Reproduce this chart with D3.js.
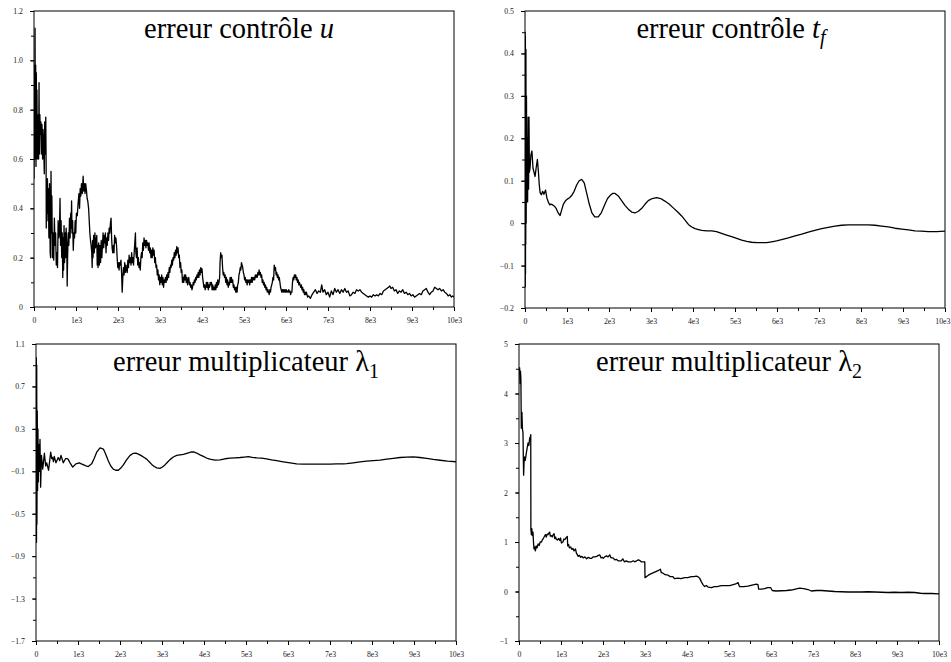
<!DOCTYPE html>
<html>
<head>
<meta charset="utf-8">
<script src="https://cdn.jsdelivr.net/npm/d3@7"></script>
<style>
  html, body { margin: 0; padding: 0; background: #fff; }
  svg { display: block; }
  .tick text { font-family: "Liberation Serif", "DejaVu Serif", serif; font-size: 7.8px; fill: #222; }
  .title { font-family: "Liberation Serif", "DejaVu Serif", serif; font-size: 28.5px; fill: #000; }
</style>
</head>
<body>
<svg id="chart" width="951" height="662"></svg>
<script>
// ---------------- data ----------------
const xTickValues = [0,1000,2000,3000,4000,5000,6000,7000,8000,9000,10000];
const xTickLabels = ["0","1e3","2e3","3e3","4e3","5e3","6e3","7e3","8e3","9e3","10e3"];

const uTicks = [0,0.2,0.4,0.6,0.8,1.0,1.2];
const uTickLabels = ["0","0.2","0.4","0.6","0.8","1.0","1.2"];
const tfTicks = [-0.2,-0.1,0,0.1,0.2,0.3,0.4,0.5];
const tfTickLabels = ["\u22120.2","\u22120.1","0","0.1","0.2","0.3","0.4","0.5"];
const l1Ticks = [-1.7,-1.3,-0.9,-0.5,-0.1,0.3,0.7,1.1];
const l1TickLabels = ["\u22121.7","\u22121.3","\u22120.9","\u22120.5","\u22120.1","0.3","0.7","1.1"];
const l2Ticks = [-1,0,1,2,3,4,5];
const l2TickLabels = ["\u22121","0","1","2","3","4","5"];

// erreur contrôle u
const uErr = [[0,0.52],[10,0.98],[20,0.6],[25,1.13],[32,0.7],[40,0.98],[48,0.57],[55,0.95],[62,0.72],[70,0.88],[78,0.6],[88,0.78],[100,0.7],[110,0.6],[120,0.91],[128,0.62],[140,0.78],[150,0.7],[165,0.75],[175,0.62],[190,0.74],[205,0.6],[215,0.72],[230,0.66],[245,0.54],[255,0.75],[268,0.62],[280,0.77],[288,0.6],[292,0.32],[300,0.45],[310,0.35],[320,0.52],[330,0.38],[340,0.48],[355,0.28],[370,0.5],[385,0.22],[395,0.2],[405,0.55],[415,0.3],[425,0.45],[440,0.2],[455,0.3],[470,0.19],[485,0.36],[500,0.25],[515,0.3],[530,0.17],[545,0.22],[560,0.16],[575,0.35],[590,0.28],[605,0.3],[620,0.44],[632,0.25],[645,0.35],[660,0.2],[672,0.3],[685,0.12],[695,0.28],[705,0.15],[715,0.33],[728,0.18],[740,0.3],[752,0.2],[765,0.32],[780,0.25],[790,0.085],[800,0.2],[815,0.3],[830,0.25],[845,0.36],[860,0.28],[875,0.38],[885,0.32],[895,0.43],[905,0.3],[920,0.35],[935,0.23],[950,0.3],[965,0.28],[980,0.35],[995,0.3],[1010,0.38],[1030,0.37],[1050,0.42],[1070,0.46],[1085,0.4],[1100,0.48],[1115,0.45],[1130,0.5],[1150,0.46],[1170,0.53],[1185,0.47],[1200,0.5],[1215,0.46],[1230,0.5],[1250,0.47],[1265,0.44],[1280,0.43],[1300,0.4],[1315,0.35],[1330,0.3],[1345,0.27],[1360,0.25],[1375,0.22],[1385,0.16],[1395,0.27],[1405,0.2],[1420,0.29],[1435,0.22],[1450,0.3],[1465,0.24],[1480,0.27],[1495,0.29],[1505,0.17],[1515,0.25],[1525,0.16],[1540,0.26],[1555,0.17],[1570,0.25],[1585,0.18],[1600,0.27],[1615,0.2],[1630,0.25],[1645,0.3],[1660,0.24],[1675,0.29],[1690,0.26],[1700,0.3],[1715,0.22],[1730,0.28],[1745,0.25],[1760,0.3],[1775,0.27],[1790,0.32],[1805,0.3],[1820,0.34],[1835,0.36],[1848,0.28],[1860,0.24],[1875,0.22],[1890,0.25],[1905,0.22],[1920,0.29],[1935,0.26],[1950,0.28],[1965,0.25],[1980,0.2],[1995,0.16],[2010,0.18],[2025,0.15],[2040,0.18],[2055,0.17],[2070,0.19],[2085,0.14],[2100,0.06],[2115,0.12],[2130,0.16],[2145,0.13],[2160,0.18],[2175,0.14],[2190,0.17],[2205,0.15],[2220,0.14],[2235,0.19],[2250,0.16],[2265,0.21],[2280,0.18],[2295,0.2],[2310,0.17],[2325,0.22],[2340,0.18],[2355,0.2],[2370,0.17],[2385,0.22],[2400,0.26],[2415,0.3],[2425,0.22],[2440,0.2],[2455,0.24],[2470,0.17],[2485,0.2],[2500,0.16],[2515,0.18],[2530,0.15],[2545,0.2],[2560,0.22],[2575,0.2],[2590,0.26],[2605,0.23],[2620,0.28],[2635,0.25],[2650,0.27],[2665,0.24],[2680,0.27],[2695,0.25],[2710,0.26],[2725,0.23],[2740,0.26],[2755,0.22],[2770,0.24],[2785,0.2],[2800,0.23],[2815,0.2],[2830,0.24],[2845,0.21],[2860,0.23],[2875,0.18],[2890,0.2],[2905,0.16],[2920,0.17],[2935,0.13],[2950,0.15],[2965,0.11],[2980,0.13],[2995,0.09],[3010,0.12],[3025,0.1],[3040,0.13],[3055,0.09],[3070,0.12],[3085,0.08],[3100,0.11],[3115,0.1],[3130,0.12],[3145,0.1],[3160,0.13],[3175,0.11],[3190,0.14],[3205,0.12],[3220,0.16],[3235,0.14],[3250,0.17],[3265,0.16],[3280,0.19],[3295,0.17],[3310,0.2],[3325,0.19],[3340,0.22],[3355,0.2],[3370,0.23],[3385,0.21],[3400,0.245],[3415,0.22],[3430,0.24],[3445,0.2],[3460,0.21],[3475,0.16],[3490,0.18],[3505,0.14],[3520,0.15],[3535,0.1],[3550,0.12],[3565,0.1],[3580,0.13],[3595,0.11],[3610,0.13],[3625,0.1],[3640,0.12],[3655,0.09],[3670,0.11],[3685,0.12],[3700,0.09],[3715,0.1],[3730,0.08],[3745,0.09],[3760,0.07],[3775,0.08],[3790,0.1],[3805,0.09],[3820,0.11],[3835,0.1],[3850,0.12],[3865,0.11],[3880,0.13],[3895,0.12],[3910,0.14],[3925,0.12],[3940,0.15],[3955,0.13],[3970,0.16],[3985,0.14],[4000,0.155],[4015,0.12],[4030,0.1],[4045,0.08],[4060,0.09],[4075,0.07],[4090,0.08],[4105,0.1],[4120,0.08],[4135,0.1],[4150,0.07],[4165,0.09],[4180,0.08],[4195,0.1],[4210,0.09],[4225,0.1],[4240,0.07],[4255,0.09],[4270,0.07],[4285,0.08],[4300,0.07],[4315,0.09],[4330,0.07],[4345,0.1],[4360,0.08],[4375,0.11],[4390,0.09],[4405,0.1],[4420,0.12],[4430,0.18],[4445,0.22],[4460,0.2],[4475,0.21],[4490,0.16],[4505,0.13],[4520,0.14],[4535,0.12],[4550,0.13],[4565,0.1],[4580,0.12],[4595,0.09],[4610,0.11],[4625,0.08],[4640,0.1],[4655,0.09],[4670,0.12],[4685,0.1],[4700,0.12],[4715,0.1],[4730,0.11],[4745,0.08],[4760,0.09],[4775,0.07],[4790,0.08],[4805,0.06],[4820,0.08],[4835,0.06],[4850,0.09],[4865,0.1],[4880,0.13],[4895,0.14],[4910,0.16],[4925,0.15],[4940,0.18],[4955,0.17],[4970,0.16],[4985,0.14],[5000,0.13],[5015,0.11],[5030,0.12],[5045,0.1],[5060,0.11],[5075,0.09],[5090,0.11],[5105,0.1],[5120,0.11],[5135,0.09],[5150,0.11],[5165,0.1],[5180,0.12],[5195,0.1],[5210,0.12],[5225,0.11],[5240,0.12],[5255,0.11],[5270,0.13],[5285,0.12],[5300,0.13],[5315,0.12],[5330,0.14],[5345,0.13],[5360,0.15],[5375,0.13],[5390,0.14],[5405,0.12],[5420,0.13],[5435,0.1],[5450,0.11],[5465,0.09],[5480,0.1],[5495,0.08],[5510,0.09],[5525,0.07],[5540,0.08],[5555,0.06],[5570,0.07],[5585,0.06],[5600,0.05],[5615,0.07],[5630,0.06],[5645,0.08],[5660,0.09],[5675,0.1],[5690,0.12],[5705,0.11],[5720,0.17],[5735,0.15],[5750,0.16],[5765,0.13],[5780,0.14],[5795,0.12],[5810,0.13],[5825,0.11],[5840,0.12],[5855,0.1],[5870,0.08],[5885,0.07],[5900,0.06],[5915,0.07],[5930,0.06],[5945,0.07],[5960,0.06],[5975,0.07],[5990,0.06],[6005,0.07],[6020,0.06],[6035,0.065],[6050,0.06],[6065,0.07],[6080,0.06],[6095,0.065],[6110,0.05],[6125,0.06],[6140,0.06],[6155,0.1],[6170,0.12],[6185,0.11],[6200,0.13],[6215,0.12],[6230,0.13],[6245,0.11],[6260,0.12],[6275,0.1],[6290,0.11],[6305,0.09],[6320,0.1],[6335,0.09],[6350,0.08],[6365,0.09],[6380,0.07],[6395,0.08],[6410,0.06],[6425,0.07],[6440,0.05],[6455,0.06],[6470,0.05],[6485,0.06],[6500,0.05],[6515,0.04],[6540,0.045],[6580,0.035],[6620,0.05],[6660,0.06],[6700,0.07],[6740,0.055],[6780,0.065],[6820,0.06],[6850,0.09],[6880,0.06],[6920,0.07],[6960,0.05],[7000,0.06],[7040,0.04],[7080,0.065],[7120,0.05],[7160,0.075],[7200,0.06],[7240,0.07],[7280,0.055],[7320,0.07],[7360,0.06],[7400,0.075],[7440,0.06],[7480,0.065],[7520,0.045],[7560,0.05],[7600,0.06],[7640,0.055],[7680,0.07],[7720,0.065],[7760,0.07],[7800,0.06],[7840,0.055],[7880,0.05],[7920,0.045],[7960,0.04],[8000,0.045],[8040,0.04],[8080,0.05],[8120,0.045],[8160,0.05],[8200,0.045],[8240,0.055],[8280,0.05],[8320,0.065],[8360,0.07],[8400,0.075],[8440,0.08],[8470,0.085],[8500,0.075],[8540,0.08],[8580,0.065],[8620,0.07],[8660,0.055],[8700,0.065],[8740,0.06],[8780,0.07],[8820,0.055],[8860,0.06],[8900,0.05],[8940,0.055],[8980,0.045],[9020,0.05],[9060,0.04],[9100,0.045],[9140,0.05],[9180,0.055],[9220,0.05],[9260,0.065],[9300,0.07],[9340,0.075],[9380,0.06],[9420,0.05],[9460,0.06],[9500,0.065],[9540,0.08],[9580,0.075],[9620,0.07],[9660,0.075],[9700,0.065],[9740,0.07],[9780,0.06],[9820,0.055],[9860,0.045],[9900,0.05],[9940,0.04],[9970,0.045],[10000,0.04]];

// erreur contrôle t_f
const tfErr = [[0,0.0],[3,0.45],[6,-0.15],[9,0.44],[12,-0.12],[15,0.41],[18,-0.05],[22,0.41],[28,0.0],[35,0.3],[45,0.05],[55,0.2],[62,0.05],[75,0.25],[85,0.08],[95,0.25],[105,0.12],[120,0.13],[140,0.16],[165,0.17],[190,0.13],[215,0.12],[240,0.11],[265,0.13],[295,0.15],[320,0.12],[340,0.09],[360,0.072],[390,0.067],[420,0.075],[450,0.068],[490,0.078],[520,0.06],[555,0.05],[590,0.043],[620,0.045],[660,0.043],[700,0.04],[740,0.035],[790,0.024],[835,0.018],[870,0.03],[915,0.045],[960,0.052],[1000,0.056],[1060,0.06],[1110,0.065],[1170,0.075],[1230,0.09],[1290,0.1],[1350,0.103],[1410,0.095],[1470,0.07],[1530,0.045],[1590,0.025],[1660,0.015],[1745,0.015],[1820,0.025],[1905,0.045],[1965,0.058],[2025,0.065],[2085,0.07],[2145,0.07],[2220,0.064],[2300,0.053],[2380,0.042],[2460,0.033],[2540,0.026],[2620,0.024],[2700,0.028],[2780,0.035],[2860,0.045],[2935,0.053],[3030,0.058],[3135,0.06],[3230,0.058],[3330,0.052],[3430,0.045],[3530,0.036],[3630,0.027],[3730,0.017],[3810,0.007],[3890,-0.003],[3970,-0.009],[4050,-0.013],[4130,-0.015],[4210,-0.017],[4330,-0.018],[4445,-0.018],[4560,-0.02],[4680,-0.024],[4800,-0.028],[4920,-0.032],[5040,-0.036],[5160,-0.04],[5280,-0.043],[5395,-0.045],[5520,-0.046],[5635,-0.046],[5750,-0.046],[5870,-0.044],[5990,-0.042],[6110,-0.039],[6270,-0.035],[6430,-0.03],[6590,-0.026],[6745,-0.021],[6900,-0.017],[7065,-0.013],[7220,-0.01],[7380,-0.007],[7540,-0.005],[7700,-0.004],[7860,-0.004],[8015,-0.004],[8175,-0.004],[8335,-0.005],[8490,-0.007],[8650,-0.009],[8810,-0.012],[8970,-0.014],[9130,-0.016],[9285,-0.018],[9440,-0.019],[9600,-0.02],[9800,-0.02],[10000,-0.019]];

// erreur multiplicateur lambda_1
const l1Err = [[0,-0.1],[8,0.97],[12,-0.77],[17,0.9],[22,-0.6],[30,0.47],[38,-0.28],[46,0.3],[55,-0.2],[65,0.15],[80,-0.1],[95,0.2],[110,-0.25],[130,0.05],[160,-0.08],[200,0.07],[230,-0.05],[255,-0.02],[300,-0.09],[350,0.08],[375,0.02],[395,0.03],[415,-0.01],[435,0.04],[475,-0.02],[530,0.03],[565,0.0],[595,0.05],[650,-0.02],[705,0.02],[740,0.02],[770,0.01],[810,-0.02],[875,-0.06],[950,-0.03],[1030,-0.02],[1080,-0.03],[1140,-0.04],[1190,-0.05],[1245,-0.055],[1325,-0.03],[1385,0.02],[1445,0.08],[1525,0.12],[1605,0.11],[1660,0.06],[1720,0.0],[1780,-0.05],[1840,-0.08],[1900,-0.09],[1960,-0.09],[2020,-0.07],[2080,-0.04],[2160,0.01],[2240,0.05],[2310,0.068],[2380,0.072],[2450,0.06],[2515,0.045],[2575,0.03],[2635,0.015],[2695,-0.01],[2755,-0.035],[2815,-0.055],[2875,-0.068],[2950,-0.072],[3010,-0.06],[3070,-0.04],[3130,-0.015],[3190,0.01],[3270,0.035],[3350,0.05],[3430,0.055],[3510,0.06],[3610,0.072],[3705,0.082],[3765,0.082],[3825,0.072],[3905,0.055],[3985,0.04],[4060,0.025],[4140,0.015],[4260,0.006],[4380,0.007],[4500,0.018],[4620,0.024],[4740,0.027],[4860,0.03],[4960,0.034],[5055,0.038],[5150,0.032],[5255,0.027],[5370,0.025],[5490,0.018],[5610,0.008],[5730,0.0],[5850,-0.008],[5970,-0.015],[6090,-0.023],[6205,-0.03],[6360,-0.032],[6520,-0.033],[6680,-0.033],[6840,-0.033],[7000,-0.032],[7160,-0.031],[7320,-0.03],[7395,-0.028],[7555,-0.02],[7715,-0.012],[7870,-0.005],[8030,0.0],[8190,0.006],[8350,0.014],[8510,0.022],[8665,0.03],[8825,0.034],[8985,0.035],[9140,0.03],[9300,0.022],[9460,0.012],[9620,0.004],[9800,-0.004],[10000,-0.01]];

// erreur multiplicateur lambda_2
const l2Err = [[0,4.5],[15,4.52],[25,4.2],[35,4.45],[45,4.3],[55,3.3],[62,3.5],[70,3.62],[80,3.3],[95,3.2],[105,2.6],[110,2.35],[120,2.6],[135,2.72],[150,2.65],[175,2.8],[195,2.9],[215,3.0],[235,2.95],[255,3.1],[270,3.12],[280,3.17],[283,1.25],[295,1.15],[305,1.27],[318,1.13],[333,1.2],[345,1.0],[357,0.86],[375,0.9],[390,0.82],[410,0.92],[430,0.88],[455,0.96],[480,0.93],[505,1.0],[535,1.0],[560,1.05],[585,1.08],[610,1.12],[630,1.15],[650,1.1],[670,1.16],[690,1.15],[710,1.18],[730,1.2],[745,1.12],[770,1.13],[790,1.1],[815,1.15],[835,1.17],[850,1.07],[870,1.1],[890,1.05],[915,1.04],[945,1.07],[970,1.03],[990,1.08],[1010,0.98],[1045,1.0],[1070,1.06],[1090,1.05],[1115,1.08],[1150,1.11],[1160,0.92],[1180,0.95],[1200,0.88],[1230,0.9],[1260,0.85],[1285,0.87],[1310,0.82],[1345,0.86],[1365,0.78],[1385,0.75],[1410,0.71],[1440,0.73],[1470,0.69],[1500,0.71],[1530,0.68],[1570,0.7],[1610,0.66],[1650,0.69],[1690,0.67],[1730,0.67],[1770,0.7],[1810,0.7],[1850,0.71],[1890,0.73],[1925,0.74],[1950,0.68],[1980,0.69],[2005,0.67],[2040,0.7],[2080,0.72],[2120,0.7],[2160,0.74],[2190,0.68],[2240,0.68],[2280,0.64],[2315,0.65],[2360,0.62],[2400,0.62],[2435,0.62],[2470,0.66],[2510,0.6],[2555,0.62],[2600,0.6],[2635,0.6],[2680,0.6],[2720,0.62],[2755,0.6],[2800,0.62],[2840,0.64],[2870,0.63],[2910,0.6],[2950,0.6],[2995,0.6],[3000,0.28],[3080,0.33],[3150,0.36],[3230,0.39],[3310,0.42],[3365,0.45],[3390,0.38],[3430,0.37],[3480,0.34],[3550,0.33],[3600,0.3],[3665,0.3],[3700,0.26],[3785,0.27],[3860,0.26],[3945,0.28],[4020,0.28],[4100,0.3],[4160,0.3],[4220,0.31],[4260,0.3],[4300,0.27],[4340,0.2],[4380,0.14],[4420,0.1],[4460,0.12],[4500,0.09],[4580,0.08],[4650,0.1],[4720,0.1],[4815,0.12],[4900,0.12],[5015,0.12],[5100,0.14],[5180,0.16],[5215,0.18],[5240,0.12],[5255,0.1],[5350,0.1],[5450,0.11],[5550,0.13],[5650,0.15],[5690,0.14],[5705,0.05],[5780,0.05],[5850,0.06],[5920,0.08],[5990,0.08],[6030,0.02],[6120,0.01],[6245,0.015],[6370,0.02],[6485,0.03],[6580,0.05],[6680,0.07],[6780,0.06],[6880,0.04],[6960,0.01],[7080,0.02],[7200,0.02],[7360,0.01],[7515,0.0],[7675,-0.005],[7835,-0.01],[7990,-0.01],[8150,-0.01],[8310,-0.005],[8470,-0.01],[8630,-0.015],[8785,-0.02],[8940,-0.015],[9100,-0.02],[9260,-0.015],[9420,-0.02],[9560,-0.035],[9660,-0.04],[9830,-0.04],[10000,-0.05]];

// ---------------- drawing ----------------
const svg = d3.select("#chart");
const W = 951;

const panels = [
  { data: uErr,  box: [34, 11, 454, 307],  y: [0, 1.2],    ticks: uTicks,  labels: uTickLabels,  minorStep: 0.1,
    titleShift: -5, title: [["erreur contrôle ", null], ["u", "it"]] },
  { data: tfErr, box: [525, 11, 945, 308], y: [-0.2, 0.5], ticks: tfTicks, labels: tfTickLabels, minorStep: 0.05,
    titleShift: -4, title: [["erreur contrôle ", null], ["t", "it"], ["f", "itsub"]] },
  { data: l1Err, box: [36, 344, 456, 641], y: [-1.7, 1.1], ticks: l1Ticks, labels: l1TickLabels, minorStep: 0.2,
    titleShift: 0, title: [["erreur multiplicateur ", null], ["\u03bb", null], ["1", "sub"]] },
  { data: l2Err, box: [519, 344, 939, 641], y: [-1, 5],    ticks: l2Ticks, labels: l2TickLabels, minorStep: 0.5,
    titleShift: 0, title: [["erreur multiplicateur ", null], ["\u03bb", null], ["2", "sub"]] }
];

function range(a, b, step) {
  const out = [];
  const n = Math.round((b - a) / step);
  for (let i = 0; i <= n; i++) out.push(+(a + i * step).toFixed(6));
  return out;
}

panels.forEach((p, i) => {
  const [x0, y0, x1, y1] = p.box;
  const x = d3.scaleLinear().domain([0, 10000]).range([x0, x1]);
  const y = d3.scaleLinear().domain(p.y).range([y1, y0]);
  const g = svg.append("g");

  const clipId = "clip" + i;
  g.append("clipPath").attr("id", clipId)
    .append("rect").attr("x", x0).attr("y", y0).attr("width", x1 - x0).attr("height", y1 - y0);

  // minor ticks
  const xMinor = range(0, 10000, 500);
  g.append("g").attr("transform", `translate(0,${y1})`)
    .call(d3.axisBottom(x).tickValues(xMinor).tickSize(3).tickFormat(""))
    .call(a => a.select(".domain").remove())
    .call(a => a.selectAll("line").attr("stroke", "#000"));
  const yMinor = range(p.y[0], p.y[1], p.minorStep);
  g.append("g").attr("transform", `translate(${x0},0)`)
    .call(d3.axisLeft(y).tickValues(yMinor).tickSize(3).tickFormat(""))
    .call(a => a.select(".domain").remove())
    .call(a => a.selectAll("line").attr("stroke", "#000"));

  // major ticks + labels
  const xAxisG = g.append("g").attr("transform", `translate(0,${y1})`)
    .call(d3.axisBottom(x).tickValues(xTickValues).tickSize(4).tickPadding(6)
      .tickFormat((d, k) => xTickLabels[k]))
    .call(a => a.select(".domain").remove())
    .call(a => a.selectAll("line").attr("stroke", "#000"));
  // keep labels inside the page: shift any label that would pass the right edge
  xAxisG.selectAll(".tick text").each(function(d) {
    const bb = this.getBBox();
    const right = x(d) + bb.x + bb.width;
    if (right > W - 1) d3.select(this).attr("dx", (W - 1 - right) + "px");
  });
  g.append("g").attr("transform", `translate(${x0},0)`)
    .call(d3.axisLeft(y).tickValues(p.ticks).tickSize(4).tickPadding(7)
      .tickFormat((d, k) => p.labels[k]))
    .call(a => a.select(".domain").remove())
    .call(a => a.selectAll("line").attr("stroke", "#000"));

  // frame
  g.append("rect").attr("x", x0).attr("y", y0).attr("width", x1 - x0).attr("height", y1 - y0)
    .attr("fill", "none").attr("stroke", "#000").attr("stroke-width", 1);

  // data line
  const line = d3.line().x(d => x(d[0])).y(d => y(d[1]));
  g.append("path").datum(p.data)
    .attr("clip-path", `url(#${clipId})`)
    .attr("d", line)
    .attr("fill", "none").attr("stroke", "#000").attr("stroke-width", 1.3)
    .attr("stroke-linejoin", "round");

  // title
  const t = g.append("text").attr("class", "title")
    .attr("x", (x0 + x1) / 2 + p.titleShift).attr("y", y0 + 27).attr("text-anchor", "middle");
  p.title.forEach(([s, kind]) => {
    const ts = t.append("tspan").text(s);
    if (kind === "it") ts.attr("font-style", "italic");
    if (kind === "itsub") ts.attr("font-style", "italic").attr("font-size", "20px").attr("dy", 6);
    if (kind === "sub") ts.attr("font-size", "20px").attr("dy", 7);
  });
});
</script>
</body>
</html>
